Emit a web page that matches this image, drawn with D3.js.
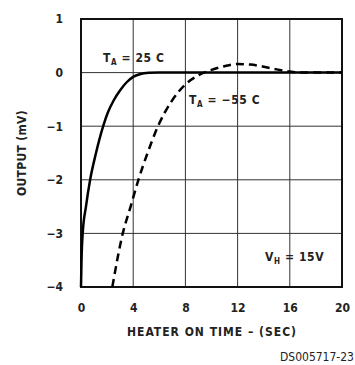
<!DOCTYPE html>
<html>
<head>
<meta charset="utf-8">
<script src="https://cdn.jsdelivr.net/npm/d3@7"></script>
<style>
  body { margin: 0; background: #fff; }
  text { font-family: "Liberation Sans Narrow", "Arial Narrow", "DejaVu Sans Condensed", sans-serif; font-weight: bold; fill: #222; }
</style>
</head>
<body>
<svg id="chart" width="355" height="365"></svg>
<script>
// heater on time (sec) vs output (mV)
const xTicks = [0, 4, 8, 12, 16, 20];
const yTicks = [1, 0, -1, -2, -3, -4];

const warmTime = [0, 0.04, 0.13, 0.38, 0.7, 1.15, 1.7, 2.05, 2.5, 3, 3.5, 4, 4.5, 5.2, 6, 20];
const warmOut  = [-4, -3.5, -3, -2.5, -2, -1.5, -1, -0.75, -0.52, -0.33, -0.18, -0.08, -0.03, -0.005, 0, 0];

const coldTime = [2.4, 3.2, 3.8, 4.4, 5.1, 5.9, 6.9, 8, 9, 10, 11, 12, 13, 14, 15, 16, 17, 20];
const coldOut  = [-4, -3, -2.5, -2, -1.5, -1, -0.55, -0.22, -0.05, 0.05, 0.12, 0.16, 0.15, 0.11, 0.06, 0.02, 0, 0];

const svg = d3.select("#chart");
const plotL = 81, plotR = 342, plotT = 19, plotB = 287;

let x = d3.scaleLinear().domain([0, 20]).range([plotL, plotR]);
let y = d3.scaleLinear().domain([-4, 1]).range([plotB, plotT]);

// grid
const grid = svg.append("g").attr("stroke", "#333").attr("stroke-width", 1);
grid.selectAll(".vx").data(xTicks).enter().append("line")
    .attr("x1", d => x(d)).attr("x2", d => x(d))
    .attr("y1", plotT).attr("y2", plotB);
grid.selectAll(".hy").data(yTicks).enter().append("line")
    .attr("x1", plotL).attr("x2", plotR)
    .attr("y1", d => y(d)).attr("y2", d => y(d));

svg.append("rect")
    .attr("x", plotL).attr("y", plotT)
    .attr("width", plotR - plotL).attr("height", plotB - plotT)
    .attr("fill", "none").attr("stroke", "#111").attr("stroke-width", 2);

// axes (labels only)
let xAxis = d3.axisBottom(x).tickValues(xTicks).tickSize(0).tickPadding(16);
let yAxis = d3.axisLeft(y).tickValues(yTicks).tickSize(0).tickPadding(18)
    .tickFormat(d => d < 0 ? "\u2212" + Math.abs(d) : d);

svg.append("g").attr("transform", "translate(0," + plotB + ")").call(xAxis)
    .attr("font-family", null).attr("font-size", null)
    .call(g => g.select(".domain").remove())
    .selectAll("text").attr("font-size", 12);
svg.append("g").attr("transform", "translate(" + plotL + ",0)").call(yAxis)
    .attr("font-family", null).attr("font-size", null)
    .call(g => g.select(".domain").remove())
    .selectAll("text").attr("font-size", 12);

svg.selectAll(".tick text").attr("fill", "#222");

// curves
let line = d3.line().curve(d3.curveMonotoneX);

svg.append("path")
    .datum(warmTime.map((t, i) => [x(t), y(warmOut[i])]))
    .attr("d", line)
    .attr("fill", "none").attr("stroke", "#000").attr("stroke-width", 2.5);

svg.append("path")
    .datum(coldTime.map((t, i) => [x(t), y(coldOut[i])]))
    .attr("d", line)
    .attr("fill", "none").attr("stroke", "#000").attr("stroke-width", 2.5)
    .attr("stroke-dasharray", "8,5");

// annotations
function subLabel(px, py, main, sub, rest) {
    let t = svg.append("text").attr("x", px).attr("y", py)
        .attr("font-size", 12).attr("letter-spacing", 0.6);
    t.append("tspan").text(main);
    t.append("tspan").attr("font-size", 8).attr("dy", 3).text(sub);
    t.append("tspan").attr("dy", -3).text(rest);
}
subLabel(103, 62, "T", "A", " = 25 C");
subLabel(189, 104, "T", "A", " = \u221255 C");
subLabel(265, 261, "V", "H", " = 15V");

svg.append("text")
    .attr("x", 212).attr("y", 336).attr("text-anchor", "middle")
    .attr("font-size", 12).attr("letter-spacing", 1)
    .text("HEATER ON TIME \u2013 (SEC)");

svg.append("text")
    .attr("transform", "translate(26,153) rotate(-90)")
    .attr("text-anchor", "middle").attr("font-size", 12).attr("letter-spacing", 0.3)
    .text("OUTPUT (mV)");

svg.append("text")
    .attr("x", 354).attr("y", 361).attr("text-anchor", "end").attr("font-size", 12)
    .style("font-weight", "normal")
    .text("DS005717-23");
</script>
</body>
</html>
